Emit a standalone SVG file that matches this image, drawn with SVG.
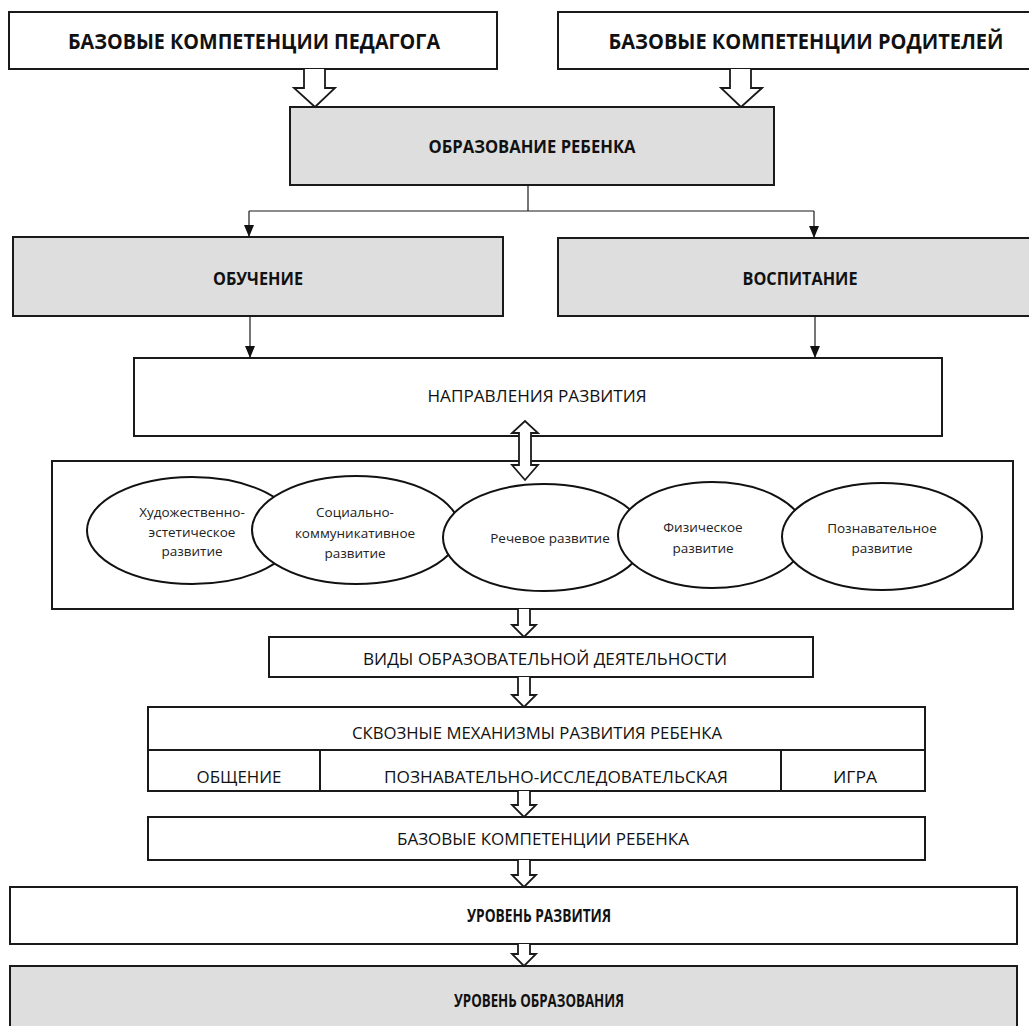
<svg xmlns="http://www.w3.org/2000/svg" width="1029" height="1026" viewBox="0 0 1029 1026">
<style>
.box{fill:#fff;stroke:#1a1a1a;stroke-width:2}
.grey{fill:#dedede;stroke:#1a1a1a;stroke-width:2}
.ell{fill:#fff;stroke:#111;stroke-width:2}
.t{font-family:"Open Sans","Liberation Sans",sans-serif;fill:#111;text-anchor:middle}
.b{font-weight:bold}
.e{font-family:"Open Sans","Liberation Sans",sans-serif;font-size:13.5px;fill:#222;text-anchor:middle}
.conn{fill:none;stroke:#1a1a1a;stroke-width:1.2}
.barrow{fill:#fff;stroke:#1a1a1a;stroke-width:1.8;stroke-linejoin:miter}
</style>
<defs>
<marker id="ah" markerWidth="12" markerHeight="10" refX="12" refY="5" orient="auto" markerUnits="userSpaceOnUse" viewBox="0 0 12 10">
<path d="M0,0 L12,5 L0,10 Z" fill="#111"/>
</marker>
</defs>
<rect width="1029" height="1026" fill="#fff"/>

<g id="node-teacher">
<rect class="box" x="9" y="12" width="488" height="57"/>
<text class="t b" x="254" y="49" font-size="21" textLength="372" lengthAdjust="spacingAndGlyphs">БАЗОВЫЕ КОМПЕТЕНЦИИ ПЕДАГОГА</text>
</g>
<g id="node-parents">
<rect class="box" x="558" y="12" width="480" height="57"/>
<text class="t b" x="806" y="49" font-size="21" textLength="395" lengthAdjust="spacingAndGlyphs">БАЗОВЫЕ КОМПЕТЕНЦИИ РОДИТЕЛЕЙ</text>
</g>
<g id="node-education">
<rect class="grey" x="290" y="107" width="484" height="78"/>
<text class="t b" x="532" y="153" font-size="17" textLength="207" lengthAdjust="spacingAndGlyphs">ОБРАЗОВАНИЕ РЕБЕНКА</text>
</g>
<g id="node-learning">
<rect class="grey" x="13" y="237" width="490" height="79"/>
<text class="t b" x="258" y="285" font-size="17" textLength="90" lengthAdjust="spacingAndGlyphs">ОБУЧЕНИЕ</text>
</g>
<g id="node-upbringing">
<rect class="grey" x="558" y="238" width="480" height="78"/>
<text class="t b" x="800" y="285" font-size="17" textLength="115" lengthAdjust="spacingAndGlyphs">ВОСПИТАНИЕ</text>
</g>
<g id="node-directions">
<rect class="box" x="134" y="358" width="808" height="78"/>
<text class="t" x="537" y="402" font-size="16" textLength="219" lengthAdjust="spacingAndGlyphs">НАПРАВЛЕНИЯ РАЗВИТИЯ</text>
</g>
<g id="node-areas">
<rect class="box" x="52" y="461" width="961" height="148"/>
<g id="area-art">
<ellipse class="ell" cx="192" cy="530.5" rx="105" ry="53.5"/>
<text class="e" x="192" y="517">Художественно-</text>
<text class="e" x="192" y="537">эстетическое</text>
<text class="e" x="192" y="556">развитие</text>
</g>
<g id="area-social">
<ellipse class="ell" cx="356" cy="530" rx="104" ry="54"/>
<text class="e" x="355" y="517">Социально-</text>
<text class="e" x="355" y="538">коммуникативное</text>
<text class="e" x="355" y="558">развитие</text>
</g>
<g id="area-speech">
<ellipse class="ell" cx="544" cy="537.5" rx="101" ry="53.5"/>
<text class="e" x="550" y="543">Речевое развитие</text>
</g>
<g id="area-physical">
<ellipse class="ell" cx="712" cy="535" rx="94" ry="53"/>
<text class="e" x="703" y="532">Физическое</text>
<text class="e" x="703" y="553">развитие</text>
</g>
<g id="area-cognitive">
<ellipse class="ell" cx="882" cy="536.5" rx="100" ry="53.5"/>
<text class="e" x="882" y="533">Познавательное</text>
<text class="e" x="882" y="553">развитие</text>
</g>
</g>
<g id="node-activities">
<rect class="box" x="269" y="637" width="544" height="40"/>
<text class="t" x="545" y="665" font-size="16" textLength="364" lengthAdjust="spacingAndGlyphs">ВИДЫ ОБРАЗОВАТЕЛЬНОЙ ДЕЯТЕЛЬНОСТИ</text>
</g>
<g id="node-mechanisms">
<rect class="box" x="148" y="707" width="777" height="84"/>
<line x1="148" y1="750" x2="925" y2="750" stroke="#1a1a1a" stroke-width="2"/>
<line x1="320" y1="750" x2="320" y2="791" stroke="#1a1a1a" stroke-width="2"/>
<line x1="781" y1="750" x2="781" y2="791" stroke="#1a1a1a" stroke-width="2"/>
<text class="t" x="537" y="739" font-size="16" textLength="370" lengthAdjust="spacingAndGlyphs">СКВОЗНЫЕ МЕХАНИЗМЫ РАЗВИТИЯ РЕБЕНКА</text>
<text class="t" x="239" y="783" font-size="16" textLength="85" lengthAdjust="spacingAndGlyphs">ОБЩЕНИЕ</text>
<text class="t" x="556" y="783" font-size="16" textLength="344" lengthAdjust="spacingAndGlyphs">ПОЗНАВАТЕЛЬНО-ИССЛЕДОВАТЕЛЬСКАЯ</text>
<text class="t" x="855" y="783" font-size="16" textLength="44" lengthAdjust="spacingAndGlyphs">ИГРА</text>
</g>
<g id="node-child">
<rect class="box" x="148" y="817" width="777" height="43"/>
<text class="t" x="543" y="845" font-size="16" textLength="292" lengthAdjust="spacingAndGlyphs">БАЗОВЫЕ КОМПЕТЕНЦИИ РЕБЕНКА</text>
</g>
<g id="node-devlevel">
<rect class="box" x="10" y="887" width="1007" height="57"/>
<text class="t b" x="539" y="922" font-size="17" textLength="144" lengthAdjust="spacingAndGlyphs">УРОВЕНЬ РАЗВИТИЯ</text>
</g>
<g id="node-edulevel">
<rect class="grey" x="10" y="966" width="1007" height="70"/>
<text class="t b" x="539" y="1007" font-size="17" textLength="170" lengthAdjust="spacingAndGlyphs">УРОВЕНЬ ОБРАЗОВАНИЯ</text>
</g>

<g id="connectors">
<path class="barrow" d="M304,69 V88 H294 L315,107 L335,88 H325 V69"/>
<path class="barrow" d="M730,69 V88 H721 L741,107 L762,88 H751 V69"/>
<path class="conn" d="M528,185 V211"/>
<path class="conn" d="M249,211 H814"/>
<path class="conn" d="M249,211 V237" marker-end="url(#ah)"/>
<path class="conn" d="M814,211 V238" marker-end="url(#ah)"/>
<path class="conn" d="M250,316 V358" marker-end="url(#ah)"/>
<path class="conn" d="M815,316 V358" marker-end="url(#ah)"/>
<path class="barrow" d="M519,433 H512 L525,421 L538,433 H531 V465 H538 L525,480 L512,465 H519 Z"/>
<path class="barrow" d="M518,609 V625 H512 L524,637 L536,625 H530 V609"/>
<path class="barrow" d="M518,677 V695 H512 L524,707 L536,695 H530 V677"/>
<path class="barrow" d="M518,791 V805 H512 L524,817 L536,805 H530 V791"/>
<path class="barrow" d="M518,860 V875 H512 L524,887 L536,875 H530 V860"/>
<path class="barrow" d="M518,944 V954 H512 L524,966 L536,954 H530 V944"/>
</g>
</svg>
